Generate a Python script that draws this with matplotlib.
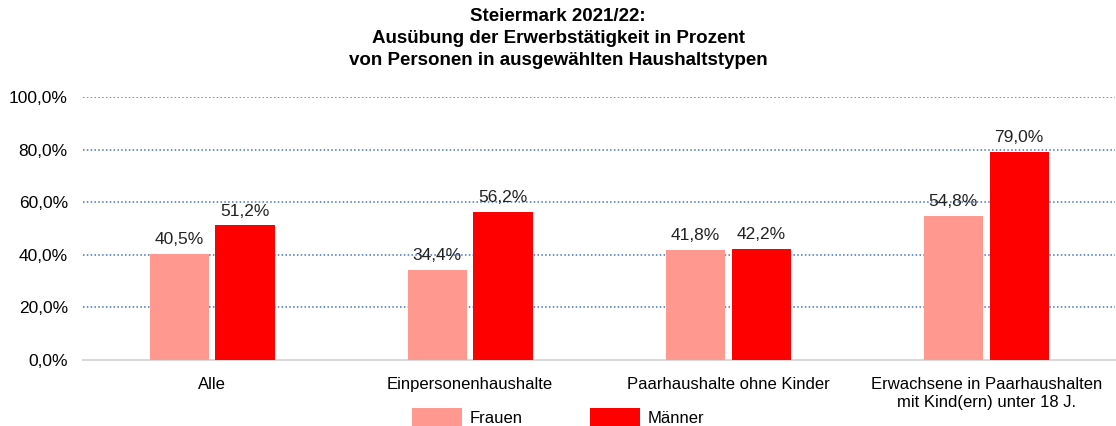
import matplotlib

matplotlib.use("Agg")
import matplotlib.pyplot as plt
import numpy as np

categories = [
    "Alle",
    "Einpersonenhaushalte",
    "Paarhaushalte ohne Kinder",
    "Erwachsene in Paarhaushalten\nmit Kind(ern) unter 18 J.",
]
frauen = [40.5, 34.4, 41.8, 54.8]
maenner = [51.2, 56.2, 42.2, 79.0]
y_ticks = [0, 20, 40, 60, 80, 100]

plt.rcParams["font.family"] = ["Liberation Sans", "DejaVu Sans"]

fig = plt.figure(figsize=(11.16, 4.26), dpi=100)
ax = fig.add_axes([0.0744, 0.155, 0.925, 0.617])

x = np.arange(len(categories))
width = 0.229
gap = 0.013
b1 = ax.bar(x - width / 2 - gap, frauen, width, color="#FF9990", label="Frauen", zorder=3)
b2 = ax.bar(x + width / 2 + gap, maenner, width, color="#FF0000", label="Männer", zorder=3)

for bars, vals in ((b1, frauen), (b2, maenner)):
    for bar, v in zip(bars, vals):
        ax.text(
            bar.get_x() + bar.get_width() / 2,
            v + 2.6,
            f"{v:.1f}%".replace(".", ","),
            ha="center",
            va="bottom",
            fontsize=12.5,
            color="#222222",
        )

ax.set_xlim(-0.5, len(categories) - 0.5)
ax.set_ylim(0, 100)
ax.set_yticks(y_ticks)
ax.set_yticklabels([f"{t:.1f}%".replace(".", ",") for t in y_ticks], fontsize=12.5)
ax.set_xticks(x)
ax.set_xticklabels(categories, fontsize=12, linespacing=1.3)
ax.tick_params(axis="x", length=0, pad=12)
ax.tick_params(axis="y", length=0, pad=11)

for t in y_ticks[1:]:
    ax.axhline(t, color="#4472C4", linestyle=(0, (1, 1.5)), linewidth=1.1, zorder=1)

for side in ("top", "right", "left"):
    ax.spines[side].set_visible(False)
ax.spines["bottom"].set_color("#D9D9D9")
ax.spines["bottom"].set_linewidth(1.5)

fig.text(
    0.5,
    0.982,
    "Steiermark 2021/22:\nAusübung der Erwerbstätigkeit in Prozent\nvon Personen in ausgewählten Haushaltstypen",
    ha="center",
    va="top",
    fontsize=13.5,
    fontweight="bold",
    linespacing=1.38,
)

fig.legend(
    handles=[b1, b2],
    labels=["Frauen", "Männer"],
    loc="lower center",
    bbox_to_anchor=(0.5, -0.04),
    ncol=2,
    frameon=False,
    fontsize=12,
    handlelength=3.0,
    handleheight=1.5,
    columnspacing=4.0,
    handletextpad=0.5,
)

fig.savefig("out.png", dpi=100)
